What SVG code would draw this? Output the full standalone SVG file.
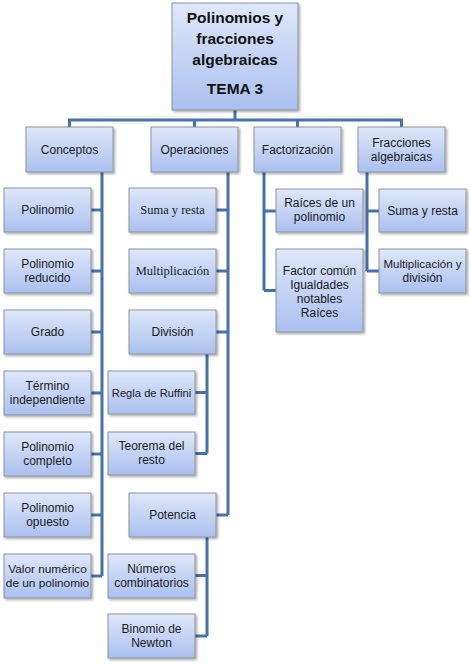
<svg xmlns="http://www.w3.org/2000/svg" width="470" height="664" viewBox="0 0 470 664">
<defs>
<linearGradient id="g" x1="0" y1="0" x2="0" y2="1">
<stop offset="0" stop-color="#dfe7fa"/>
<stop offset="1" stop-color="#a9c0ef"/>
</linearGradient>
<filter id="sh" x="-10%" y="-10%" width="130%" height="130%">
<feDropShadow dx="1.5" dy="1.5" stdDeviation="1.2" flood-color="#000" flood-opacity="0.35"/>
</filter>
<style>
.b{fill:url(#g);stroke:#8f939a;stroke-width:1;filter:url(#sh)}
.t{font-family:"Liberation Sans",Arial,sans-serif;font-size:12px;fill:#1b1b1b;text-anchor:middle}
.s{font-family:"Liberation Serif","Times New Roman",serif;font-size:12.5px;fill:#1b1b1b;text-anchor:middle}
.h{font-family:"Liberation Sans",Arial,sans-serif;font-size:15.5px;font-weight:bold;fill:#111;text-anchor:middle}
.c{fill:none;stroke:#4672ab;stroke-width:3}
</style>
</defs>
<g id="connectors">
<path class="c" d="M235 110V120M69.5 127V120H401.5V127M194.5 120V127M297.5 120V127"/>
<path class="c" d="M102 172V576M91 210H102M91 271H102M91 332H102M91 393H102M91 454H102M91 515H102M91 576H102"/>
<path class="c" d="M228 172V515M216 210H228M216 271H228M216 332H228M216 515H228"/>
<path class="c" d="M207 354V453.5M195 392.5H207M195 453.5H207"/>
<path class="c" d="M207 537V636M195 575.5H207M195 636H207"/>
<path class="c" d="M264 172V290.5M264 211H276M264 290.5H276"/>
<path class="c" d="M367 172V271M367 211H379M367 271H379"/>
</g>
<g id="root"><rect class="b" x="172" y="3" width="126" height="107"/>
<text class="h" x="235" y="23">Polinomios y</text>
<text class="h" x="235" y="44">fracciones</text>
<text class="h" x="235" y="65">algebraicas</text>
<text class="h" x="235" y="94">TEMA 3</text></g>
<g id="conceptos"><rect class="b" x="26" y="127" width="87" height="45"/><text class="t" x="69.5" y="154">Conceptos</text></g>
<g id="operaciones"><rect class="b" x="151" y="127" width="87" height="45"/><text class="t" x="194.5" y="154">Operaciones</text></g>
<g id="factorizacion"><rect class="b" x="254" y="127" width="87" height="45"/><text class="t" x="297.5" y="154">Factorización</text></g>
<g id="fracciones"><rect class="b" x="358" y="127" width="87" height="45"/><text class="t" x="401.5" y="147">Fracciones</text><text class="t" x="401.5" y="161">algebraicas</text></g>

<g id="polinomio"><rect class="b" x="4" y="188" width="87" height="44"/><text class="t" x="47.5" y="214">Polinomio</text></g>
<g id="reducido"><rect class="b" x="4" y="249" width="87" height="44"/><text class="t" x="47.5" y="268">Polinomio</text><text class="t" x="47.5" y="282">reducido</text></g>
<g id="grado"><rect class="b" x="4" y="310" width="87" height="44"/><text class="t" x="47.5" y="336">Grado</text></g>
<g id="termino"><rect class="b" x="4" y="371" width="87" height="44"/><text class="t" x="47.5" y="390">Término</text><text class="t" x="47.5" y="404">independiente</text></g>
<g id="completo"><rect class="b" x="4" y="432" width="87" height="44"/><text class="t" x="47.5" y="451">Polinomio</text><text class="t" x="47.5" y="465">completo</text></g>
<g id="opuesto"><rect class="b" x="4" y="493" width="87" height="44"/><text class="t" x="47.5" y="512">Polinomio</text><text class="t" x="47.5" y="526">opuesto</text></g>
<g id="valor"><rect class="b" x="4" y="554" width="87" height="44"/><text class="t" x="47.5" y="573" style="font-size:11.8px">Valor numérico</text><text class="t" x="47.5" y="587" style="font-size:11.8px">de un polinomio</text></g>

<g id="suma"><rect class="b" x="129" y="188" width="87" height="44"/><text class="s" x="172.5" y="214">Suma y resta</text></g>
<g id="multiplicacion"><rect class="b" x="129" y="249" width="87" height="44"/><text class="s" x="172.5" y="275">Multiplicación</text></g>
<g id="division"><rect class="b" x="129" y="310" width="87" height="44"/><text class="t" x="172.5" y="336">División</text></g>
<g id="ruffini"><rect class="b" x="108" y="371" width="87" height="43"/><text class="t" x="151.5" y="397" style="font-size:11.2px">Regla de Ruffini</text></g>
<g id="teorema"><rect class="b" x="108" y="432" width="87" height="43"/><text class="t" x="151.5" y="450">Teorema del</text><text class="t" x="151.5" y="464">resto</text></g>
<g id="potencia"><rect class="b" x="129" y="493" width="87" height="44"/><text class="t" x="172.5" y="519">Potencia</text></g>
<g id="numeros"><rect class="b" x="108" y="554" width="87" height="44"/><text class="t" x="151.5" y="573">Números</text><text class="t" x="151.5" y="587">combinatorios</text></g>
<g id="binomio"><rect class="b" x="108" y="614" width="87" height="44"/><text class="t" x="151.5" y="633">Binomio de</text><text class="t" x="151.5" y="647">Newton</text></g>

<g id="raices"><rect class="b" x="276" y="189" width="87" height="43"/><text class="t" x="319.5" y="207">Raíces de un</text><text class="t" x="319.5" y="221">polinomio</text></g>
<g id="factorcomun"><rect class="b" x="276" y="249" width="87" height="83"/><text class="t" x="319.5" y="275">Factor común</text><text class="t" x="319.5" y="289">Igualdades</text><text class="t" x="319.5" y="303">notables</text><text class="t" x="319.5" y="317">Raíces</text></g>
<g id="fsuma"><rect class="b" x="379" y="189" width="87" height="43"/><text class="t" x="422.5" y="215">Suma y resta</text></g>
<g id="fmult"><rect class="b" x="379" y="249" width="87" height="44"/><text class="t" x="422.5" y="268" style="font-size:11.5px">Multiplicación y</text><text class="t" x="422.5" y="282">división</text></g>
</svg>
